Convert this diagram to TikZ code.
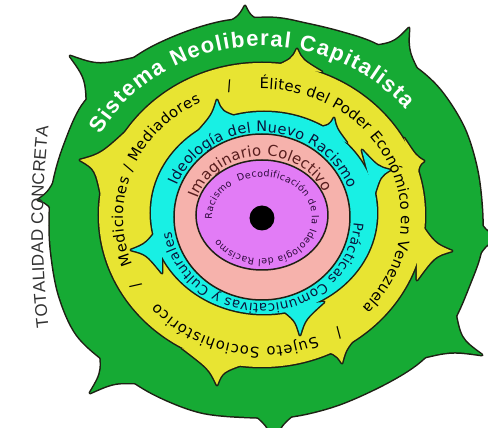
\documentclass[tikz,border=0pt]{standalone}
\usepackage{fontspec}
\setmainfont{DejaVu Sans}
\newfontfamily\headfont{Liberation Sans}
\usetikzlibrary{decorations.text,calc}
\definecolor{gbody}{RGB}{22,170,52}
\definecolor{ybody}{RGB}{232,228,50}
\definecolor{cbody}{RGB}{24,240,228}
\definecolor{pbody}{RGB}{246,178,172}
\definecolor{vbody}{RGB}{226,124,246}
\definecolor{edge}{RGB}{30,32,20}
\definecolor{navy}{RGB}{10,22,60}
\definecolor{maroon}{RGB}{88,30,30}
\definecolor{plum}{RGB}{45,10,60}
\definecolor{graytext}{RGB}{50,50,50}

% one fin-shaped tooth: base point, tip, base point
\newcommand{\fin}[3]{(#1) .. controls ($(#1)!0.3!(#3)!0.5!(#2)$) .. (#2)
  .. controls ($(#3)!0.3!(#1)!0.5!(#2)$) .. (#3) -- cycle}

% text set along an elliptic arc: start, end, x radius, y radius, format, text
\newcommand{\ringtext}[6]{\path[decorate, decoration={text along path,
  text={|#5|#6}, text align={fit to path}}]
  (#1:#3pt and #4pt) arc[start angle=#1, end angle=#2, x radius=#3pt, y radius=#4pt];}

\tikzset{
  outline/.style={draw=edge, line width=3pt, line join=round},
}

\begin{document}
\begin{tikzpicture}[x=1pt, y=1pt]
\useasboundingbox (-262,-210) rectangle (226,218);

% ---------- outer green gear ----------
\def\gbodypath{plot[smooth cycle, tension=0.55] coordinates {
 (11,200) (45,194) (78,186) (111,175) (150,153) (178,128) (202,90) (215,48)
 (220,5) (219,-32) (208,-65) (190,-105) (162,-140) (128,-163) (78,-186)
 (31,-198) (-12,-199) (-62,-194) (-110,-175) (-152,-147) (-185,-117)
 (-203,-77) (-211,-32) (-212,6) (-208,38) (-198,72) (-180,112) (-150,143)
 (-115,168) (-75,186) (-35,197)}}
\def\gteeth{\fin{-200,52}{-224,18}{-203,-6}
 \fin{-175,95}{-192,162}{-118,162}
 \fin{-48,188}{-17,212}{12,190}
 \fin{95,170}{147,190}{165,130}
 \fin{208,12}{238,-20}{208,-52}
 \fin{192,-88}{220,-137}{140,-145}
 \fin{-18,-188}{12,-226}{42,-188}
 \fin{-165,-115}{-172,-175}{-100,-167}}
\path[outline] \gbodypath;
\path[outline] \gteeth;
\fill[gbody] \gbodypath;
\fill[gbody] \gteeth;

% ---------- yellow gear ----------
\def\ybodypath{(0,3) ellipse[x radius=163pt, y radius=152pt]}
\def\yteeth{\fin{10,150}{35,169}{60,146}
 \fin{142,80}{162,57}{155,35}
 \fin{155,0}{190,-33}{155,-62}
 \fin{104,-108}{80,-145}{50,-132}
 \fin{-15,-145}{-45,-167}{-80,-130}
 \fin{-130,92}{-182,58}{-160,18}}
\path[outline] \ybodypath;
\path[outline] \yteeth;
\fill[ybody] \ybodypath;
\fill[ybody] \yteeth;

% ---------- cyan gear ----------
\def\cbodypath{(2,5) ellipse[x radius=113pt, y radius=101pt]}
\def\cteeth{\fin{-68,82}{-45,118}{-22,100}
 \fin{55,90}{72,100}{85,75}
 \fin{100,68}{128,48}{112,22}
 \fin{15,-88}{38,-117}{62,-84}
 \fin{-100,-5}{-131,-32}{-100,-55}}
\path[outline] \cbodypath;
\path[outline] \cteeth;
\fill[cbody] \cbodypath;
\fill[cbody] \cteeth;

% ---------- inner discs ----------
\path[fill=pbody, draw=edge, line width=1.5pt] (0,1) ellipse[x radius=88pt, y radius=83pt];
\path[fill=vbody, draw=edge, line width=1.5pt] (0,3) ellipse[x radius=66pt, y radius=55pt];
\node[fill=black, circle, inner sep=0pt, minimum size=25pt] (core) at (0,0) {};

% ---------- labels ----------
\ringtext{151}{39}{185}{172}{\color{white}\headfont\bfseries\fontsize{22}{22}\selectfont}{Sistema Neoliberal Capitalista}

\ringtext{201}{116}{139}{129}{\color{black}\fontsize{14.8}{14.8}\selectfont}{Mediciones / Mediadores}
\ringtext{91}{-44}{139}{129}{\color{black}\fontsize{14.8}{14.8}\selectfont}{Élites del Poder Económico en Venezuela}
\ringtext{-67}{-139}{139}{129}{\color{black}\fontsize{14.8}{14.8}\selectfont}{Sujeto Sociohistórico}
\foreach \a in {103,-58,-150}
  \node[font=\fontsize{15}{15}\selectfont, rotate=\a-90] at (\a:145pt and 135pt) {/};

\ringtext{158}{20}{92}{86}{\color{navy}\fontsize{14.5}{14.5}\selectfont}{Ideología del Nuevo Racismo}
\ringtext{-3}{-171}{92}{86}{\color{navy}\fontsize{13.5}{13.5}\selectfont}{Prácticas Comunicativas y Culturales}

\ringtext{162}{24}{68}{62}{\color{maroon}\fontsize{15}{15}\selectfont}{Imaginario Colectivo}

\ringtext{182}{126}{50}{41}{\color{plum}\fontsize{9.5}{9.5}\selectfont}{Racismo}
\ringtext{118}{-150}{50}{41}{\color{plum}\fontsize{9.5}{9.5}\selectfont}{Decodificación de la Ideología del Racismo}

% caption outside the gear, on a wide arc
\path[decorate, decoration={text along path,
  text={|\color{graytext}\headfont\fontsize{17}{17}\selectfont|TOTALIDAD CONCRETA},
  text align={fit to path}}]
  (681,-9) ++(186.4:900pt) arc[start angle=186.4, end angle=173.6, radius=900pt];
\end{tikzpicture}
\end{document}
